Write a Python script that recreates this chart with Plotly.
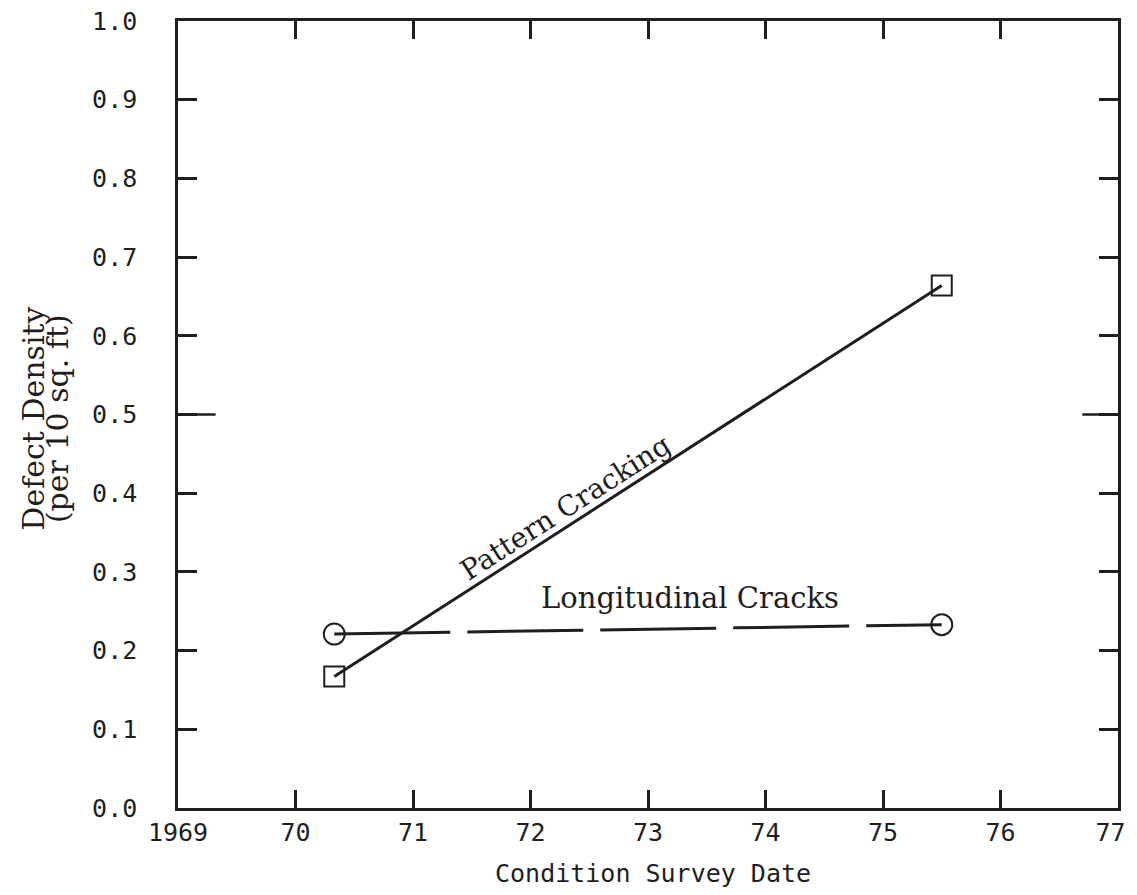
import plotly.graph_objects as go

# ---- data ----
survey_dates = [1970.33, 1975.5]
pattern_cracking = [0.167, 0.664]
longitudinal_cracks = [0.221, 0.233]

x_tickvals = [1969, 1970, 1971, 1972, 1973, 1974, 1975, 1976, 1977]
x_ticktext = ["1969", "70", "71", "72", "73", "74", "75", "76", "77\u00a0"]
y_tickvals = [0.0, 0.1, 0.2, 0.3, 0.4, 0.5, 0.6, 0.7, 0.8, 0.9, 1.0]
y_ticktext = ["0.0", "0.1", "0.2", "0.3", "0.4", "0.5", "0.6", "0.7", "0.8", "0.9", "1.0"]

INK = "#1e1e1e"
SANS_MONO = "DejaVu Sans Mono"
TYPE = "DejaVu Serif"

fig = go.Figure()

fig.add_trace(go.Scatter(
    x=survey_dates, y=pattern_cracking, mode="lines+markers",
    name="Pattern Cracking",
    line=dict(color=INK, width=3),
    marker=dict(symbol="square-open", size=20, color=INK, line=dict(width=2, color=INK)),
))
fig.add_trace(go.Scatter(
    x=survey_dates, y=longitudinal_cracks, mode="lines+markers",
    name="Longitudinal Cracks",
    line=dict(color=INK, width=3, dash="116px,17px"),
    marker=dict(symbol="circle-open", size=21, color=INK, line=dict(width=2, color=INK)),
))

# line labels
fig.add_annotation(x=1972.30, y=0.382, text="Pattern Cracking", showarrow=False,
                   textangle=-32.7, font=dict(family=TYPE, size=28, color=INK))
fig.add_annotation(x=1973.36, y=0.2665, text="Longitudinal Cracks", showarrow=False,
                   font=dict(family=TYPE, size=29, color=INK))

# y-axis title (two tightly set typed lines)
fig.add_annotation(xref="paper", yref="paper", x=-0.154, y=0.495,
                   text="Defect Density", showarrow=False, textangle=-90,
                   xanchor="center", yanchor="middle",
                   font=dict(family=TYPE, size=30, color=INK))
fig.add_annotation(xref="paper", yref="paper", x=-0.128, y=0.495,
                   text="(per 10 sq. ft)", showarrow=False, textangle=-90,
                   xanchor="center", yanchor="middle",
                   font=dict(family=TYPE, size=30, color=INK))

# x-axis title
fig.add_annotation(xref="paper", yref="paper", x=0.505, y=-0.083,
                   text="Condition Survey Date", showarrow=False,
                   xanchor="center", yanchor="middle",
                   font=dict(family=SANS_MONO, size=25, color=INK))

# longer ticks at 0.5 on both vertical axes
fig.add_shape(type="line", xref="paper", yref="y", x0=0, x1=0.04, y0=0.5, y1=0.5,
              line=dict(color=INK, width=2.5))
fig.add_shape(type="line", xref="paper", yref="y", x0=0.962, x1=1, y0=0.5, y1=0.5,
              line=dict(color=INK, width=2.5))

fig.update_layout(
    width=1129, height=887,
    margin=dict(l=170, r=19, t=13, b=87),
    paper_bgcolor="white", plot_bgcolor="white",
    showlegend=False,
    xaxis=dict(
        range=[1969, 1977], tickvals=x_tickvals, ticktext=x_ticktext,
        showgrid=False, zeroline=False, automargin=False,
        showline=True, linecolor=INK, linewidth=2.5, mirror="ticks",
        ticks="inside", ticklen=18, tickwidth=2.5, tickcolor=INK,
        ticklabelstandoff=0, ticklabeloverflow="allow",
        tickfont=dict(family=SANS_MONO, size=25, color=INK),
    ),
    yaxis=dict(
        range=[0, 1], tickvals=y_tickvals, ticktext=y_ticktext,
        showgrid=False, zeroline=False, automargin=False,
        showline=True, linecolor=INK, linewidth=2.5, mirror="ticks",
        ticks="inside", ticklen=19, tickwidth=2.5, tickcolor=INK,
        ticklabelstandoff=33, ticklabeloverflow="allow",
        tickfont=dict(family=SANS_MONO, size=25, color=INK),
    ),
)

fig.write_html("out.html")
